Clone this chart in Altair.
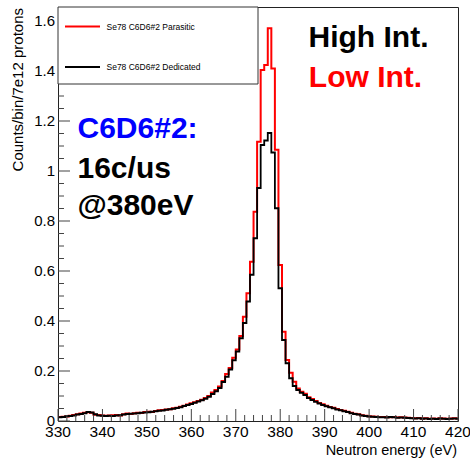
import altair as alt
import pandas as pd

# ---- data ----
bin_width = 0.8
x_start = 330.0
x_end = 420.0

dedicated = [
    0.015, 0.016, 0.019, 0.020, 0.022, 0.026, 0.028, 0.031, 0.036, 0.034,
    0.027, 0.022, 0.021, 0.020, 0.021, 0.020, 0.022, 0.023, 0.026, 0.028,
    0.029, 0.030, 0.031, 0.033, 0.034, 0.035, 0.037, 0.039, 0.041, 0.042,
    0.045, 0.047, 0.049, 0.052, 0.055, 0.060, 0.064, 0.068, 0.073, 0.078,
    0.083, 0.089, 0.097, 0.108, 0.119, 0.132, 0.156, 0.177, 0.206, 0.243,
    0.278, 0.331, 0.392, 0.478, 0.585, 0.731, 0.932, 1.104, 1.122, 1.152,
    1.074, 0.851, 0.531, 0.324, 0.231, 0.171, 0.140, 0.124, 0.113, 0.104,
    0.092, 0.084, 0.077, 0.070, 0.064, 0.059, 0.055, 0.051, 0.046, 0.043,
    0.039, 0.036, 0.031, 0.028, 0.026, 0.022, 0.020, 0.018, 0.017, 0.016,
    0.015, 0.015, 0.014, 0.016, 0.015, 0.013, 0.014, 0.013, 0.012, 0.011,
    0.010, 0.011, 0.009, 0.010, 0.008, 0.009, 0.008, 0.010, 0.009, 0.008,
    0.009, 0.010, 0.009,
]

parasitic = [
    0.016, 0.017, 0.018, 0.021, 0.024, 0.027, 0.030, 0.033, 0.035, 0.033,
    0.025, 0.024, 0.022, 0.021, 0.022, 0.023, 0.024, 0.022, 0.027, 0.030,
    0.028, 0.031, 0.033, 0.032, 0.036, 0.037, 0.036, 0.040, 0.043, 0.044,
    0.046, 0.047, 0.051, 0.053, 0.057, 0.061, 0.066, 0.071, 0.075, 0.080,
    0.085, 0.092, 0.100, 0.114, 0.124, 0.138, 0.160, 0.188, 0.212, 0.253,
    0.286, 0.340, 0.417, 0.511, 0.637, 0.837, 1.117, 1.404, 1.424, 1.571,
    1.410, 1.085, 0.624, 0.357, 0.244, 0.193, 0.157, 0.130, 0.117, 0.109,
    0.095, 0.088, 0.080, 0.072, 0.067, 0.061, 0.056, 0.053, 0.048, 0.044,
    0.041, 0.037, 0.033, 0.029, 0.027, 0.023, 0.021, 0.019, 0.018, 0.017,
    0.016, 0.016, 0.015, 0.015, 0.016, 0.014, 0.015, 0.014, 0.013, 0.012,
    0.011, 0.012, 0.010, 0.011, 0.009, 0.010, 0.009, 0.011, 0.010, 0.009,
    0.010, 0.011, 0.010,
]

x_tick_labels = [330, 340, 350, 360, 370, 380, 390, 400, 410, 420]
x_minor_ticks = [v for v in range(330, 421, 2) if v % 10 != 0]
y_tick_labels = [0, 0.2, 0.4, 0.6, 0.8, 1.0, 1.2, 1.4, 1.6]
y_minor_ticks = [round(i * 0.05, 2) for i in range(0, 34) if i % 4 != 0]

legend_labels = ["Se78 C6D6#2 Parasitic", "Se78 C6D6#2 Dedicated"]
y_title = "Counts/bin/7e12 protons"
x_title = "Neutron energy (eV)"

# ---- tables ----
edges = [x_start + bin_width * i for i in range(len(dedicated))]


def step_table(vals):
    return pd.DataFrame({"E": edges + [x_end], "v": vals + [vals[-1]]})


red_df = step_table(parasitic)
black_df = step_table(dedicated)

FONT = "Liberation Sans"
xscale = alt.Scale(domain=[x_start, x_end], nice=False, zero=False)
yscale = alt.Scale(domain=[0, 1.656], nice=False, zero=True)

line_red = alt.Chart(red_df).mark_line(
    interpolate="step-after", color="#ff0000", strokeWidth=2, clip=True
).encode(
    x=alt.X("E:Q", scale=xscale, axis=None),
    y=alt.Y("v:Q", scale=yscale, axis=None),
)

line_black = alt.Chart(black_df).mark_line(
    interpolate="step-after", color="black", strokeWidth=1.8, clip=True
).encode(
    x=alt.X("E:Q", scale=xscale, axis=None),
    y=alt.Y("v:Q", scale=yscale, axis=None),
)

tick_col = "#444444"
x_tick_df = pd.DataFrame({"t": x_tick_labels})
y_tick_df = pd.DataFrame({"t": y_tick_labels})

x_major = alt.Chart(x_tick_df).mark_rule(color=tick_col, strokeWidth=1).encode(
    x=alt.X("t:Q", scale=xscale, axis=None), y=alt.value(414), y2=alt.value(402))
x_minor = alt.Chart(pd.DataFrame({"t": x_minor_ticks})).mark_rule(
    color=tick_col, strokeWidth=1).encode(
    x=alt.X("t:Q", scale=xscale, axis=None), y=alt.value(414), y2=alt.value(408))
y_major = alt.Chart(y_tick_df).mark_rule(color=tick_col, strokeWidth=1).encode(
    y=alt.Y("t:Q", scale=yscale, axis=None), x=alt.value(0), x2=alt.value(12))
y_minor = alt.Chart(pd.DataFrame({"t": y_minor_ticks})).mark_rule(
    color=tick_col, strokeWidth=1).encode(
    y=alt.Y("t:Q", scale=yscale, axis=None), x=alt.value(0), x2=alt.value(6))

x_labels = alt.Chart(x_tick_df).mark_text(
    font=FONT, fontSize=15.5, color="black", align="center", baseline="top"
).encode(
    x=alt.X("t:Q", scale=xscale, axis=None), y=alt.value(418),
    text=alt.Text("t:Q", format="~g"))
y_labels = alt.Chart(y_tick_df).mark_text(
    font=FONT, fontSize=15, color="black", align="right", baseline="middle"
).encode(
    y=alt.Y("t:Q", scale=yscale, axis=None), x=alt.value(-3),
    text=alt.Text("t:Q", format="~g"))

one = alt.Data(values=[{"a": 1}])


def label(text, x, y, size, color="black", weight="normal", align="left",
          baseline="alphabetic", angle=0):
    kw = dict(text=text, font=FONT, fontSize=size, color=color,
              fontWeight=weight, align=align, baseline=baseline)
    if angle:
        kw["angle"] = angle
    return alt.Chart(one).mark_text(**kw).encode(x=alt.value(x), y=alt.value(y))


legend_box = alt.Chart(one).mark_rect(
    fill="white", stroke="#333333", strokeWidth=1).encode(
    x=alt.value(0), x2=alt.value(200), y=alt.value(0), y2=alt.value(77))
leg_red = alt.Chart(one).mark_rule(color="#ff0000", strokeWidth=2).encode(
    x=alt.value(7), x2=alt.value(42), y=alt.value(19.5))
leg_black = alt.Chart(one).mark_rule(color="black", strokeWidth=2).encode(
    x=alt.value(7), x2=alt.value(42), y=alt.value(60))

texts = [
    label(legend_labels[0], 48.5, 19.5, 8.5, baseline="middle"),
    label(legend_labels[1], 48.5, 60, 8.5, baseline="middle"),
    label("High Int.", 310.5, 39.7, 30, weight="bold", align="center"),
    label("Low Int.", 307.5, 79.7, 30, color="#ff0000", weight="bold", align="center"),
    label("C6D6#2:", 19.5, 131.3, 30, color="#0000ff", weight="bold"),
    label("16c/us", 19.5, 171.3, 30, weight="bold"),
    label("@380eV", 19.5, 208, 30, weight="bold"),
    label(y_title, -35.5, 1, 15, align="right", angle=270),
    label(x_title, 399, 448, 14.5, align="right"),
]

chart = alt.layer(
    line_red, line_black, x_major, x_minor, y_major, y_minor,
    x_labels, y_labels, legend_box, leg_red, leg_black, *texts
).properties(
    width=400, height=414,
    autosize=alt.AutoSizeParams(type="none"),
    padding={"left": 58, "top": 7, "right": 12, "bottom": 38},
    background="white",
).configure_view(stroke="#222222", strokeWidth=1)

chart.save("out.html", embed_options={"renderer": "svg", "actions": False})
